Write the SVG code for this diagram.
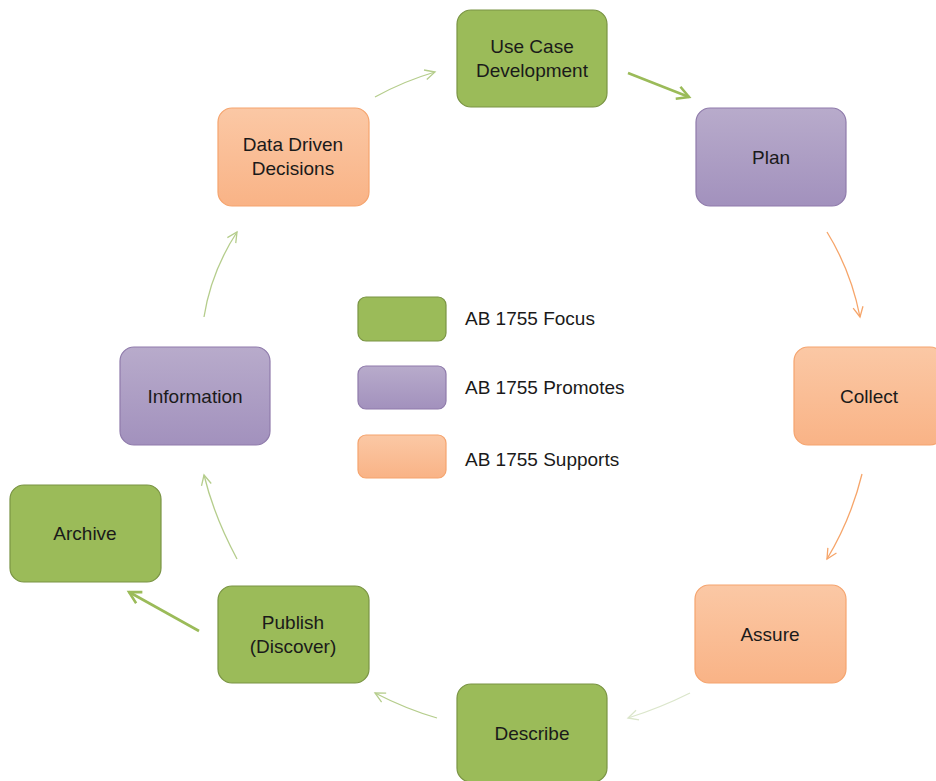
<svg xmlns="http://www.w3.org/2000/svg" width="936" height="781" viewBox="0 0 936 781">
<defs>
<linearGradient id="gPurple" x1="0" y1="0" x2="0" y2="1">
<stop offset="0" stop-color="#b8abcb"/><stop offset="1" stop-color="#a291bd"/>
</linearGradient>
<linearGradient id="gOrange" x1="0" y1="0" x2="0" y2="1">
<stop offset="0" stop-color="#fbc8a5"/><stop offset="1" stop-color="#f9b386"/>
</linearGradient>
<marker id="mLG" markerUnits="userSpaceOnUse" markerWidth="14" markerHeight="14" refX="11" refY="6" orient="auto" viewBox="0 0 14 12">
<path d="M1,1 L11,6 L1,11" fill="none" stroke="#b5cd8c" stroke-width="1.3"/>
</marker>
<marker id="mVLG" markerUnits="userSpaceOnUse" markerWidth="14" markerHeight="14" refX="11" refY="6" orient="auto" viewBox="0 0 14 12">
<path d="M1,1 L11,6 L1,11" fill="none" stroke="#dbe6cb" stroke-width="1.3"/>
</marker>
<marker id="mG" markerUnits="userSpaceOnUse" markerWidth="16" markerHeight="16" refX="12" refY="7" orient="auto" viewBox="0 0 15 14">
<path d="M1,1 L12,7 L1,13" fill="none" stroke="#9bbb59" stroke-width="2.4"/>
</marker>
<marker id="mO" markerUnits="userSpaceOnUse" markerWidth="14" markerHeight="14" refX="11" refY="6" orient="auto" viewBox="0 0 14 12">
<path d="M1,1 L11,6 L1,11" fill="none" stroke="#f6a56a" stroke-width="1.3"/>
</marker>
</defs>
<style>
.green{fill:#9bbb59;stroke:#7a9444;stroke-width:1.2}
.purple{fill:url(#gPurple);stroke:#8f7bab;stroke-width:1.2}
.orange{fill:url(#gOrange);stroke:#f5a46e;stroke-width:1.2}
text{font-family:"Liberation Sans",Arial,sans-serif;font-size:19px;fill:#1a1a1a}
.c{text-anchor:middle}
.lg{stroke:#b5cd8c;stroke-width:1.3;fill:none;marker-end:url(#mLG)}
.vlg{stroke:#dbe6cb;stroke-width:1.3;fill:none;marker-end:url(#mVLG)}
.g{stroke:#9bbb59;stroke-width:2.6;fill:none;marker-end:url(#mG)}
.o{stroke:#f6a56a;stroke-width:1.3;fill:none;marker-end:url(#mO)}
</style>
<rect width="936" height="781" fill="#ffffff"/>
<g id="connectors">
<path class="lg" d="M375,97 Q404,81 435,72"/>
<path class="g" d="M628,73 L689,97"/>
<path class="o" d="M827,232 Q851,271 860,317"/>
<path class="o" d="M862,474 Q851,519 827,559"/>
<path class="vlg" d="M690,693 Q660,708 628,718"/>
<path class="lg" d="M437,718 Q406,709 375,693"/>
<path class="g" d="M199,631 L129,592"/>
<path class="lg" d="M237,559 Q214,516 204,475"/>
<path class="lg" d="M204,317 Q211,272 237,232"/>
</g>
<g id="node-usecase">
<rect class="green" x="457" y="10" width="150" height="97" rx="14"/>
<text class="c" x="532" y="53">Use Case</text>
<text class="c" x="532" y="77">Development</text>
</g>
<g id="node-plan">
<rect class="purple" x="696" y="108" width="150" height="98" rx="14"/>
<text class="c" x="771" y="164">Plan</text>
</g>
<g id="node-collect">
<rect class="orange" x="794" y="347" width="150" height="98" rx="14"/>
<text class="c" x="869" y="403">Collect</text>
</g>
<g id="node-assure">
<rect class="orange" x="695" y="585" width="151" height="98" rx="14"/>
<text class="c" x="770" y="641">Assure</text>
</g>
<g id="node-describe">
<rect class="green" x="457" y="684" width="150" height="98" rx="14"/>
<text class="c" x="532" y="740">Describe</text>
</g>
<g id="node-publish">
<rect class="green" x="218" y="586" width="151" height="97" rx="14"/>
<text class="c" x="293" y="629">Publish</text>
<text class="c" x="293" y="653">(Discover)</text>
</g>
<g id="node-archive">
<rect class="green" x="10" y="485" width="151" height="97" rx="14"/>
<text class="c" x="85" y="540">Archive</text>
</g>
<g id="node-information">
<rect class="purple" x="120" y="347" width="150" height="98" rx="14"/>
<text class="c" x="195" y="403">Information</text>
</g>
<g id="node-datadriven">
<rect class="orange" x="218" y="108" width="151" height="98" rx="14"/>
<text class="c" x="293" y="151">Data Driven</text>
<text class="c" x="293" y="175">Decisions</text>
</g>
<g id="legend">
<rect class="green" x="358" y="297" width="88" height="44" rx="8"/>
<text x="465" y="325">AB 1755 Focus</text>
<rect class="purple" x="358" y="366" width="88" height="43" rx="8"/>
<text x="465" y="394">AB 1755 Promotes</text>
<rect class="orange" x="358" y="435" width="88" height="43" rx="8"/>
<text x="465" y="466">AB 1755 Supports</text>
</g>
</svg>
